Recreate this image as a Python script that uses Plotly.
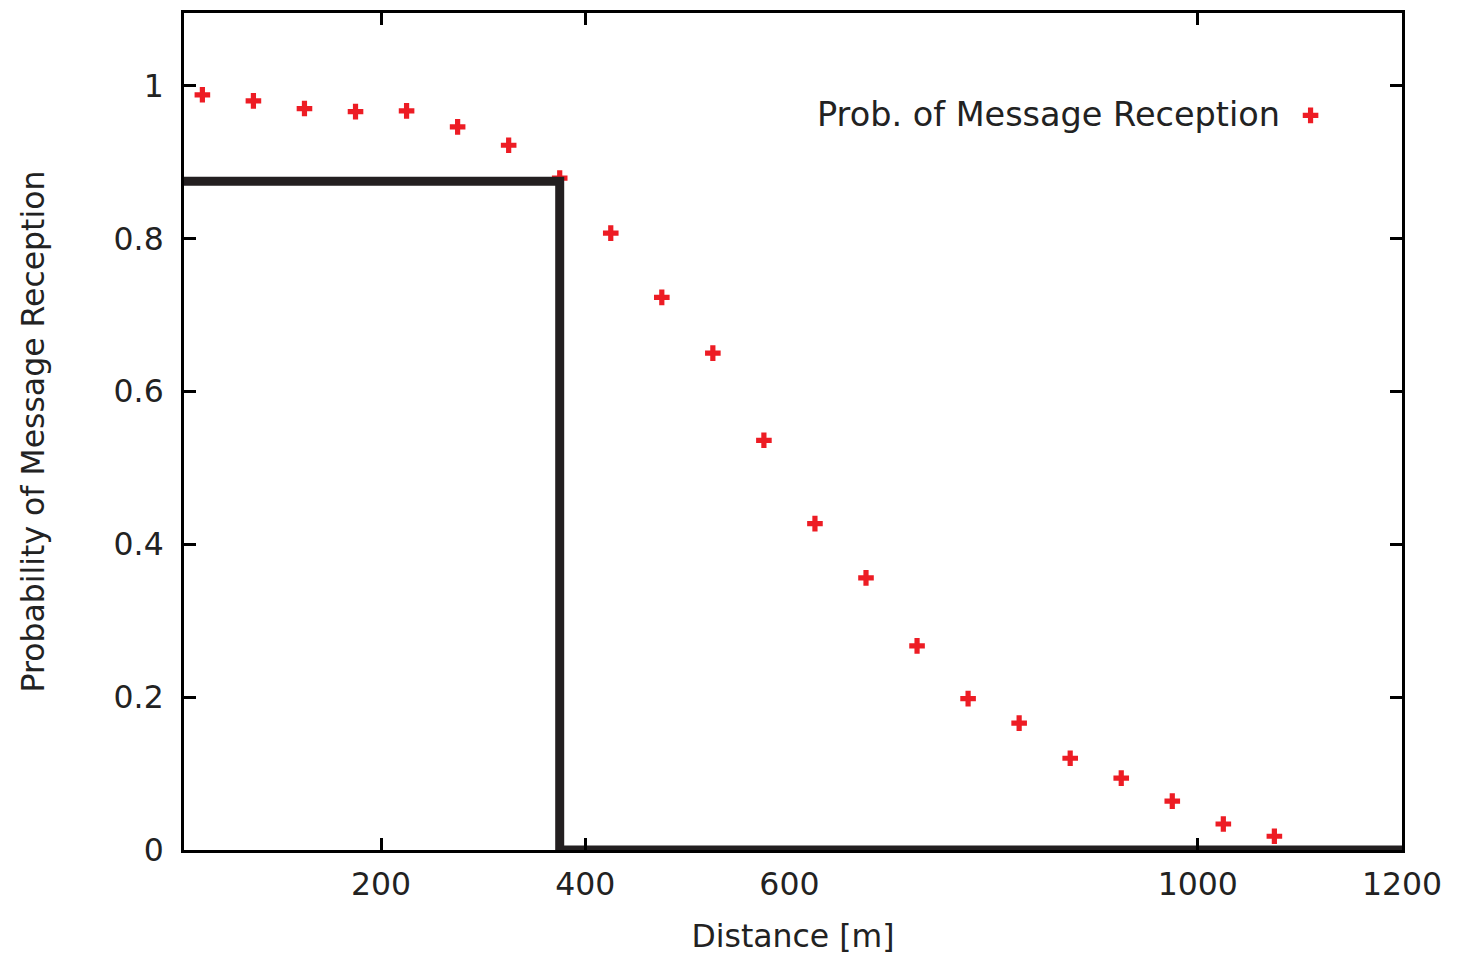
import plotly.graph_objects as go

# Data
distance = [25, 75, 125, 175, 225, 275, 325, 375, 425, 475, 525, 575,
            625, 675, 725, 775, 825, 875, 925, 975, 1025, 1075]
prob_reception = [0.988, 0.980, 0.970, 0.966, 0.967, 0.946, 0.922, 0.879,
                  0.807, 0.723, 0.650, 0.536, 0.427, 0.356, 0.267, 0.198,
                  0.166, 0.120, 0.094, 0.064, 0.034, 0.018]

# Idealised disc model (step)
step_x = [0, 375, 375, 1200]
step_y = [0.875, 0.875, 0, 0]

x_label_vals = [200, 400, 600, 1000, 1200]
x_tick_vals = [200, 400, 1000]
y_tick_vals = [0, 0.2, 0.4, 0.6, 0.8, 1]
y_tick_text = ["0", "0.2", "0.4", "0.6", "0.8", "1"]

series_name = "Prob. of Message Reception"
FONT = "DejaVu Sans"
FS = 31.5
RED = "#ed1c24"
INK = "#231f20"
X_RANGE = [7, 1200]
Y_RANGE = [0, 1.095]

fig = go.Figure()

fig.add_trace(go.Scatter(
    x=step_x, y=step_y, mode="lines", xaxis="x2",
    line=dict(color=INK, width=9), showlegend=False, cliponaxis=False,
    hoverinfo="skip",
))

fig.add_trace(go.Scatter(
    x=distance, y=prob_reception, mode="markers", name=series_name,
    marker=dict(symbol="cross", size=13, color=RED, line=dict(width=0)),
    showlegend=False,
))

# legend-only entry: symbol shown to the right of the annotation text
fig.add_trace(go.Scatter(
    x=[None], y=[None], mode="markers", name="",
    marker=dict(symbol="cross", size=13, color=RED, line=dict(width=0)),
    showlegend=True,
))

fig.update_layout(
    width=1458, height=960,
    margin=dict(l=176, r=64, t=2, b=118),
    paper_bgcolor="white", plot_bgcolor="white",
    font=dict(family=FONT, size=FS, color="#222222"),
    xaxis=dict(
        range=X_RANGE, tickmode="array", tickvals=x_label_vals,
        ticks="", showgrid=False, zeroline=False,
        showline=True, linewidth=3, linecolor="black", mirror=True,
        ticklabelstandoff=4,
        title=dict(text="Distance [m]", font=dict(size=FS), standoff=25),
    ),
    xaxis2=dict(
        range=X_RANGE, overlaying="x", side="bottom",
        tickmode="array", tickvals=x_tick_vals, showticklabels=False,
        ticks="inside", ticklen=12, tickwidth=3, tickcolor="black",
        showgrid=False, zeroline=False,
        showline=True, linewidth=3, linecolor="black", mirror="ticks",
    ),
    yaxis=dict(
        range=Y_RANGE, tickmode="array", tickvals=y_tick_vals, ticktext=y_tick_text,
        ticks="inside", ticklen=12, tickwidth=3, tickcolor="black",
        showgrid=False, zeroline=False,
        showline=True, linewidth=3, linecolor="black", mirror="ticks",
        ticklabelstandoff=11,
        title=dict(text="Probability of Message Reception", font=dict(size=FS), standoff=60),
    ),
    legend=dict(
        x=0.9085, y=0.8776, xanchor="left", yanchor="middle",
        bgcolor="rgba(0,0,0,0)", font=dict(size=FS),
    ),
    annotations=[dict(
        text=series_name, xref="paper", yref="paper",
        x=0.9015, y=0.8786, xanchor="right", yanchor="middle",
        showarrow=False, font=dict(size=33.5, color="#222222"),
    )],
)

fig.write_html("out.html")
